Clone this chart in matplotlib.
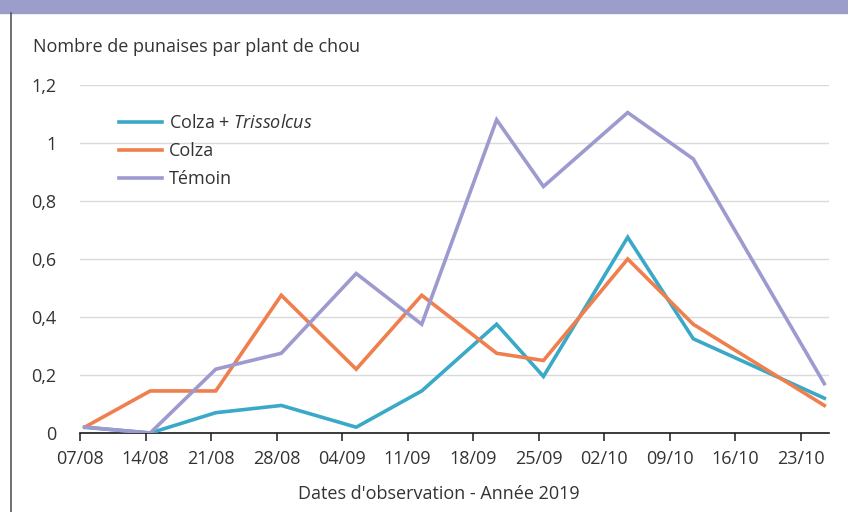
import matplotlib
matplotlib.use("Agg")
import matplotlib.pyplot as plt
import matplotlib.dates as mdates
import pandas as pd

# observation dates (2019) and mean bug counts per cabbage plant
dates = ["2019-08-07", "2019-08-14", "2019-08-21", "2019-08-28", "2019-09-05",
         "2019-09-12", "2019-09-20", "2019-09-25", "2019-10-04", "2019-10-11",
         "2019-10-25"]
colza_trissolcus = [0.02, 0.0, 0.07, 0.095, 0.02, 0.145, 0.375, 0.195, 0.675, 0.325, 0.12]
colza = [0.02, 0.145, 0.145, 0.475, 0.22, 0.475, 0.275, 0.25, 0.60, 0.375, 0.095]
temoin = [0.02, 0.0, 0.22, 0.275, 0.55, 0.375, 1.08, 0.85, 1.105, 0.945, 0.17]

tick_dates = pd.date_range("2019-08-07", "2019-10-23", freq="7D")
y_ticks = [0, 0.2, 0.4, 0.6, 0.8, 1.0, 1.2]
y_labels = ["0", "0,2", "0,4", "0,6", "0,8", "1", "1,2"]

C_CYAN = "#3aa9c8"
C_ORANGE = "#f07f4e"
C_PURPLE = "#9d9acf"
TXT = "#333333"
FS = 13

plt.rcParams["font.family"] = ["Open Sans", "DejaVu Sans"]
plt.rcParams["mathtext.fontset"] = "custom"
plt.rcParams["mathtext.rm"] = "Open Sans"
plt.rcParams["mathtext.it"] = "Open Sans:italic"

fig = plt.figure(figsize=(8.48, 5.12), dpi=100)
ax = fig.add_axes([80 / 848, 79 / 512, 749 / 848, 348 / 512])

# points sit in the middle of their day (Excel date axis)
x = pd.to_datetime(dates) + pd.Timedelta(hours=12)
lw = 2.6
ax.plot(x, colza_trissolcus, color=C_CYAN, lw=lw, label="Colza + $\\mathit{Trissolcus}$",
        solid_joinstyle="miter", zorder=3)
ax.plot(x, colza, color=C_ORANGE, lw=lw, label="Colza", solid_joinstyle="miter", zorder=3)
ax.plot(x, temoin, color=C_PURPLE, lw=lw, label="Témoin", solid_joinstyle="miter", zorder=3)

ax.set_xlim(pd.Timestamp("2019-08-07"), pd.Timestamp("2019-10-26"))
ax.set_ylim(0, 1.2)
ax.set_xticks(tick_dates)
ax.xaxis.set_major_formatter(mdates.DateFormatter("%d/%m"))
ax.set_yticks(y_ticks)
ax.set_yticklabels(y_labels)

ax.grid(axis="y", color="#dadada", lw=1.0)
ax.set_axisbelow(True)
for s in ("top", "right", "left"):
    ax.spines[s].set_visible(False)
ax.spines["bottom"].set_color("#1a1a1a")
ax.spines["bottom"].set_linewidth(1.2)
ax.tick_params(axis="x", length=6, width=1.1, color="#1a1a1a", pad=6,
               labelsize=FS, labelcolor=TXT)
ax.tick_params(axis="y", length=0, pad=17, labelsize=FS, labelcolor=TXT)

leg = ax.legend(loc="upper left", bbox_to_anchor=(0.035, 0.952), frameon=False,
                handlelength=2.4, handletextpad=0.35, labelspacing=0.55,
                borderpad=0.2, fontsize=FS)
for t in leg.get_texts():
    t.set_color(TXT)

fig.text(33 / 848, 1 - 47 / 512, "Nombre de punaises par plant de chou",
         ha="left", va="center", fontsize=FS, color=TXT)
fig.text(439 / 848, 1 - 494 / 512, "Dates d'observation - Année 2019",
         ha="center", va="center", fontsize=FS, color=TXT)

# page decoration: header band and left rule
fig.patches.append(plt.Rectangle((0, 1 - 12.5 / 512), 1, 12.5 / 512,
                                 transform=fig.transFigure, color="#9d9dcc", zorder=0))
fig.lines.append(plt.Line2D([11 / 848, 11 / 848], [0, 1 - 12.5 / 512],
                            transform=fig.transFigure, color="#555555", lw=1.2))

fig.savefig("out.png", dpi=100, facecolor="white")
